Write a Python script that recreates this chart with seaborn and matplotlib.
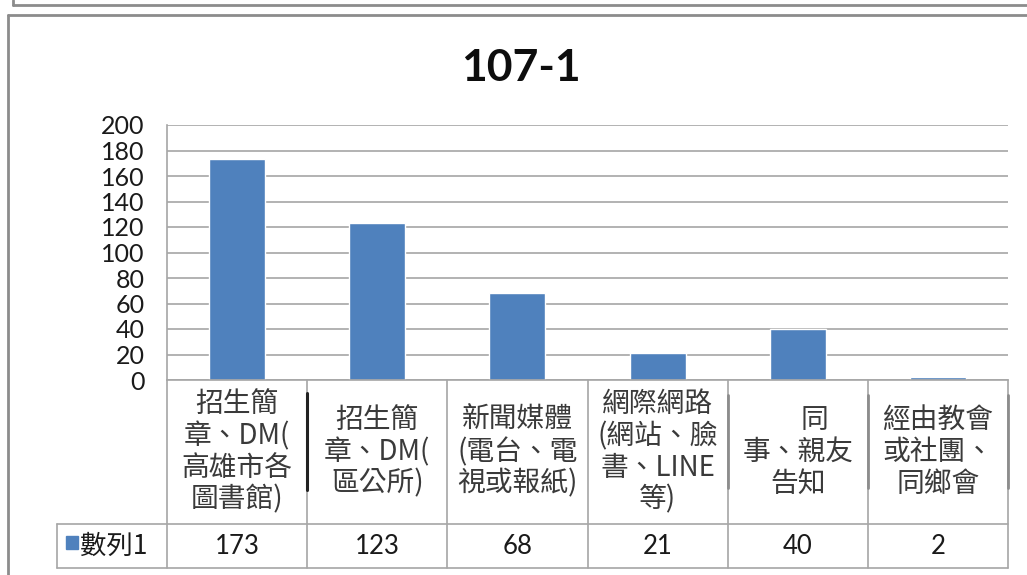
import matplotlib
matplotlib.use("Agg")
import matplotlib.pyplot as plt
from matplotlib.lines import Line2D
from matplotlib.patches import Rectangle
from matplotlib import transforms
import pandas as pd
import seaborn as sns

# chart data
title = "107-1"
series_name = "數列1"
categories = [
    "招生簡\n章、DM(\n高雄市各\n圖書館)",
    "招生簡\n章、DM(\n區公所)",
    "新聞媒體\n(電台、電\n視或報紙)",
    "網際網路\n(網站、臉\n書、LINE\n等)",
    "　 同\n事、親友\n告知",
    "經由教會\n或社團、\n同鄉會",
]
values = [173, 123, 68, 21, 40, 2]
y_ticks = list(range(0, 201, 20))

sns.set_style("white")
plt.rcParams["font.family"] = ["Lato", "Noto Sans CJK TC", "DejaVu Sans"]

W, H = 1027, 575
fig = plt.figure(figsize=(W / 100, H / 100), dpi=100)

# plot area in pixels
px0, px1, py0, py1 = 167, 1008, 125, 380
ax = fig.add_axes([px0 / W, 1 - py1 / H, (px1 - px0) / W, (py1 - py0) / H])

df = pd.DataFrame({"cat": categories, "val": values})
sns.barplot(data=df, x="cat", y="val", color="#4F81BD", width=0.4,
            saturation=1, ax=ax)

ax.set_ylim(0, 200)
ax.set_xlim(-0.5, len(categories) - 0.5)
ax.set_yticks(y_ticks)
ax.set_yticklabels([str(t) for t in y_ticks], fontsize=18, color="#1a1a1a")
ax.tick_params(axis="y", length=0, pad=16)
ax.set_xticks([])
ax.set_xlabel("")
ax.set_ylabel("")
ax.yaxis.grid(True, color="#A6A6A6", linewidth=1.2)
ax.set_axisbelow(True)
for s in ["top", "right"]:
    ax.spines[s].set_visible(False)
for s in ["left", "bottom"]:
    ax.spines[s].set_color("#A6A6A6")
    ax.spines[s].set_linewidth(1.2)

fig.text(521 / W, 1 - 68 / H, title, fontsize=32, fontweight="bold",
         color="#0d0d0d", ha="center", va="center")

# data table under the axis
def yfrac(py):
    return (py1 - py) / (py1 - py0)

def xfrac(px):
    return (px - px0) / (px1 - px0)

row1, row2 = 524, 568
trans = transforms.blended_transform_factory(ax.transData, ax.transAxes)
grid_kw = dict(color="#A6A6A6", linewidth=1.2, clip_on=False)

# horizontal lines
for py in [row1, row2]:
    ax.add_line(Line2D([xfrac(57), 1], [yfrac(py), yfrac(py)],
                       transform=ax.transAxes, **grid_kw))
# vertical lines at category boundaries
for i in range(len(categories) + 1):
    ax.add_line(Line2D([i - 0.5, i - 0.5], [0, yfrac(row2)],
                       transform=trans, **grid_kw))
ax.add_line(Line2D([xfrac(57), xfrac(57)], [yfrac(row1), yfrac(row2)],
                   transform=ax.transAxes, **grid_kw))

# header labels and values
for i, (cat, val) in enumerate(zip(categories, values)):
    ax.text(i, yfrac((py1 + row1) / 2), cat, transform=trans,
            ha="center", va="center", fontsize=20, color="#3a3a3a",
            family=["Noto Sans CJK TC", "DejaVu Sans"], linespacing=1.08)
    ax.text(i, yfrac((row1 + row2) / 2), str(val), transform=trans,
            ha="center", va="center", fontsize=18.5, color="#1a1a1a")

# legend key in the table
ax.add_patch(Rectangle((xfrac(66), yfrac(549)), xfrac(78) - xfrac(66),
                       yfrac(536) - yfrac(549), transform=ax.transAxes,
                       color="#4F81BD", clip_on=False))
ax.text(xfrac(80), yfrac((row1 + row2) / 2), series_name,
        transform=ax.transAxes, ha="left", va="center", fontsize=19,
        color="#1a1a1a", family=["Noto Sans CJK TC", "DejaVu Sans"])

# rendering marks inside the header row
ax.add_line(Line2D([0.5, 0.5], [yfrac(393), yfrac(490)], transform=trans,
                   color="#222222", linewidth=2.2, clip_on=False))
for b in [3.5, 4.5, 5.5]:
    ax.add_line(Line2D([b, b], [yfrac(395), yfrac(488)], transform=trans,
                       color="#8c8c8c", linewidth=2, clip_on=False))

# outer frames of the picture
frame_kw = dict(color="#8c8c8c", linewidth=2, transform=fig.transFigure)
fig.add_artist(Line2D([13 / W, 1], [1 - 5 / H, 1 - 5 / H], **frame_kw))
fig.add_artist(Line2D([13 / W, 13 / W], [1, 1 - 5 / H], **frame_kw))
fig.add_artist(Line2D([8 / W, 1], [1 - 15 / H, 1 - 15 / H], **frame_kw))
fig.add_artist(Line2D([8 / W, 8 / W], [1 - 15 / H, 0], **frame_kw))

fig.savefig("out.png", dpi=100)
